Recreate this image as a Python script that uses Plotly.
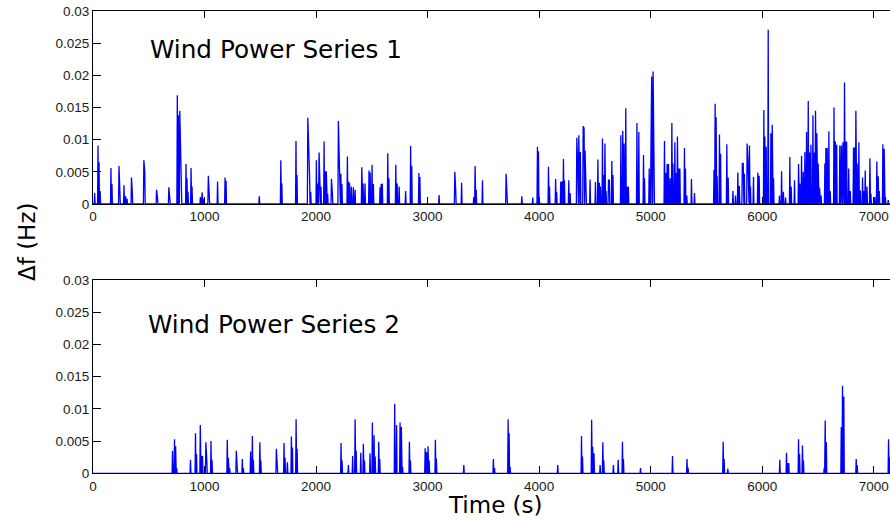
import plotly.graph_objects as go

# Frequency deviation peaks, wind power series 1 (time in s, deviation in Hz)
s1_t = [15, 45, 54, 64, 161, 170, 233, 241, 278, 292, 305, 345, 352, 456, 464, 570, 578, 680, 688,
        756, 765, 778, 784, 792, 834, 843, 852, 879, 888, 963, 978, 990, 1034, 1042, 1117, 1184, 1193,
        1491, 1684, 1693, 1820, 1829, 1926, 1934, 1942, 1952, 2003, 2012, 2027, 2035, 2044, 2072, 2081,
        2092, 2104, 2138, 2146, 2200, 2208, 2222, 2232, 2281, 2290, 2300, 2316, 2334, 2350, 2410, 2422,
        2439, 2475, 2485, 2502, 2514, 2574, 2584, 2594, 2643, 2653, 2715, 2727, 2745, 2803, 2848, 2858,
        2922, 2931, 3103, 3244, 3252, 3305, 3414, 3426, 3436, 3492, 3704, 3712, 3845, 3943, 3985, 3994,
        4003, 4084, 4093, 4148, 4157, 4194, 4206, 4218, 4227, 4266, 4278, 4338, 4346, 4356, 4370, 4395,
        4403, 4412, 4420, 4457, 4505, 4527, 4540, 4550, 4568, 4580, 4590, 4600, 4622, 4630, 4652, 4662,
        4733, 4750, 4762, 4777, 4787, 4800, 4877, 4894, 4936, 4945, 4987, 5002, 5009, 5022, 5030, 5124,
        5136, 5148, 5160, 5175, 5190, 5200, 5217, 5228, 5240, 5250, 5262, 5303, 5312, 5324, 5366, 5393,
        5568, 5578, 5587, 5596, 5617, 5627, 5683, 5695, 5738, 5761, 5782, 5795, 5822, 5830, 5840, 5865,
        5872, 5886, 5895, 5922, 5961, 5973, 6015, 6024, 6036, 6054, 6078, 6090, 6102, 6155, 6174, 6190,
        6210, 6248, 6260, 6290, 6326, 6338, 6353, 6368, 6383, 6398, 6413, 6425, 6437, 6455, 6466, 6478,
        6490, 6502, 6514, 6528, 6562, 6571, 6583, 6598, 6610, 6644, 6656, 6668, 6696, 6710, 6724, 6738,
        6748, 6757, 6776, 6790, 6819, 6830, 6840, 6852, 6867, 6880, 6900, 6912, 6924, 6940, 6966, 6975,
        7010, 7028, 7040, 7050, 7082, 7094, 7105, 7130]
s1_df = [0.0017, 0.0091, 0.0065, 0.002, 0.0056, 0.0031, 0.0059, 0.003, 0.0029, 0.0012, 0.0008, 0.0041,
         0.002, 0.0068, 0.0051, 0.0022, 0.001, 0.0026, 0.001, 0.0169, 0.0138, 0.0145, 0.0069, 0.0035,
         0.0062, 0.004, 0.0019, 0.0056, 0.0027, 0.0011, 0.0018, 0.0008, 0.0044, 0.0015, 0.0035, 0.0041,
         0.0036, 0.0012, 0.0068, 0.0032, 0.0098, 0.0045, 0.0134, 0.0097, 0.0042, 0.0019, 0.0068, 0.0032,
         0.008, 0.0044, 0.0027, 0.0097, 0.0051, 0.0051, 0.0016, 0.0039, 0.0018, 0.0129, 0.0071, 0.0047,
         0.0031, 0.0074, 0.0035, 0.0033, 0.0027, 0.0026, 0.0022, 0.0057, 0.0032, 0.0032, 0.0052, 0.0049,
         0.0061, 0.0031, 0.0026, 0.0031, 0.0032, 0.0079, 0.004, 0.0061, 0.0032, 0.0027, 0.002, 0.009,
         0.0059, 0.0048, 0.0042, 0.0014, 0.005, 0.0022, 0.0033, 0.0011, 0.0059, 0.0022, 0.0037, 0.0047,
         0.0027, 0.0012, 0.001, 0.0089, 0.0082, 0.0005, 0.0058, 0.0027, 0.0039, 0.0019, 0.0035, 0.0035,
         0.007, 0.0037, 0.0037, 0.0017, 0.0103, 0.006, 0.0107, 0.0081, 0.0121, 0.0118, 0.0083, 0.0027,
         0.0038, 0.0034, 0.0069, 0.0033, 0.0027, 0.0102, 0.0045, 0.0094, 0.002, 0.0037, 0.0037, 0.0067,
         0.0045, 0.0107, 0.0114, 0.0094, 0.0149, 0.0027, 0.0027, 0.0126, 0.0112, 0.0076, 0.004, 0.0055,
         0.016, 0.0198, 0.0206, 0.006, 0.0098, 0.0048, 0.0062, 0.0062, 0.004, 0.0126, 0.0063, 0.0096,
         0.0048, 0.0105, 0.0055, 0.0055, 0.0087, 0.0055, 0.0013, 0.0039, 0.0017, 0.0053, 0.0156, 0.0135,
         0.0043, 0.0108, 0.0078, 0.0093, 0.0041, 0.002, 0.0013, 0.0049, 0.0028, 0.0063, 0.0063, 0.0047,
         0.0094, 0.0068, 0.0091, 0.0027, 0.0042, 0.0049, 0.0044, 0.0146, 0.0105, 0.0089, 0.0271, 0.011,
         0.0123, 0.004, 0.0013, 0.0051, 0.0019, 0.001, 0.0073, 0.0027, 0.0037, 0.0062, 0.0032, 0.0075,
         0.005, 0.0081, 0.0112, 0.016, 0.008, 0.0092, 0.0138, 0.008, 0.0145, 0.011, 0.0063, 0.0025,
         0.0013, 0.0063, 0.0087, 0.0087, 0.0113, 0.002, 0.015, 0.0097, 0.0092, 0.0091, 0.0091, 0.0096,
         0.0189, 0.0097, 0.0097, 0.0055, 0.002, 0.0088, 0.0088, 0.0145, 0.0063, 0.0096, 0.0021, 0.0041,
         0.002, 0.0052, 0.0027, 0.0071, 0.0016, 0.0011, 0.0066, 0.0043, 0.002, 0.0093, 0.0086, 0.0011,
         0.0006]

# Frequency deviation peaks, wind power series 2
s2_t = [713, 731, 741, 750, 874, 919, 928, 962, 972, 982, 1012, 1020, 1058, 1067, 1204, 1213, 1225,
        1285, 1293, 1339, 1348, 1413, 1429, 1438, 1496, 1505, 1644, 1652, 1713, 1722, 1743, 1779, 1788,
        1821, 1830, 2224, 2233, 2290, 2328, 2350, 2360, 2401, 2424, 2434, 2484, 2505, 2520, 2530, 2562,
        2571, 2705, 2722, 2753, 2765, 2775, 2837, 2846, 2978, 2990, 3004, 3014, 3070, 3079, 3325, 3590,
        3600, 3722, 3731, 3740, 4167, 4380, 4389, 4471, 4480, 4492, 4547, 4571, 4580, 4666, 4709, 4747,
        4756, 4909, 5196, 5326, 5335, 5650, 5659, 5692, 6158, 6218, 6228, 6238, 6326, 6335, 6361, 6370,
        6556, 6565, 6575, 6709, 6720, 6732, 6843, 6852, 7133, 7142]
s2_df = [0.0035, 0.0053, 0.0042, 0.0008, 0.0021, 0.0062, 0.003, 0.0075, 0.0027, 0.0027, 0.0048, 0.0022,
         0.005, 0.0021, 0.0052, 0.0024, 0.0008, 0.0035, 0.0008, 0.0022, 0.0008, 0.0034, 0.0058, 0.0021,
         0.0048, 0.002, 0.0038, 0.0016, 0.0047, 0.0024, 0.0017, 0.0057, 0.004, 0.0084, 0.0038, 0.0047,
         0.002, 0.0013, 0.0027, 0.0084, 0.0035, 0.0032, 0.0046, 0.002, 0.0031, 0.0079, 0.0059, 0.0026,
         0.0049, 0.0022, 0.0108, 0.0075, 0.0079, 0.0072, 0.001, 0.0049, 0.002, 0.0039, 0.0033, 0.0042,
         0.002, 0.0052, 0.0023, 0.0013, 0.0022, 0.0008, 0.0084, 0.0062, 0.001, 0.0013, 0.0058, 0.0026,
         0.0083, 0.0041, 0.0031, 0.0013, 0.0048, 0.002, 0.0013, 0.0021, 0.0049, 0.0022, 0.0008, 0.0027,
         0.0022, 0.0009, 0.0049, 0.0022, 0.0007, 0.0021, 0.0032, 0.0016, 0.0016, 0.0053, 0.003, 0.0043,
         0.002, 0.0008, 0.0082, 0.0048, 0.0072, 0.0136, 0.0119, 0.0022, 0.0013, 0.0053, 0.0025]

series_names = ["Wind Power Series 1", "Wind Power Series 2"]
x_ticks = [0, 1000, 2000, 3000, 4000, 5000, 6000, 7000]
y_ticks = [0, 0.005, 0.01, 0.015, 0.02, 0.025, 0.03]
y_tick_text = ["0", "0.005", "0.01", "0.015", "0.02", "0.025", "0.03"]

T_END = 7200        # length of the record (s)
HALF_WIDTH = 4      # half base width of a single deviation event (s)

W, H = 890, 520


def event_trace(times, peaks):
    """Line vertices: zero baseline with a narrow event at each peak."""
    xs, ys = [0], [0.0]
    prev = None
    for t, p in zip(times, peaks):
        if prev is None or t - prev > 2 * HALF_WIDTH:
            if prev is not None:
                xs.append(prev + HALF_WIDTH)
                ys.append(0.0)
            xs.append(t - HALF_WIDTH)
            ys.append(0.0)
        xs.append(t)
        ys.append(p)
        prev = t
    xs += [prev + HALF_WIDTH, T_END]
    ys += [0.0, 0.0]
    return xs, ys


def py(pix):
    return 1 - pix / H


fig = go.Figure()
for k, (tt, vv) in enumerate([(s1_t, s1_df), (s2_t, s2_df)]):
    xs, ys = event_trace(tt, vv)
    suffix = "" if k == 0 else "2"
    fig.add_trace(go.Scatter(x=xs, y=ys, mode="lines",
                             line=dict(color="#0000ff", width=1.3),
                             xaxis="x" + suffix, yaxis="y" + suffix,
                             showlegend=False, hoverinfo="skip"))

tick_font = dict(family="Liberation Sans, Arial, sans-serif", size=13.5, color="#1a1a1a")
x_common = dict(range=[0, 7146], tickvals=x_ticks, ticks="inside", ticklen=7,
                tickcolor="black", showline=True, linecolor="black", linewidth=1,
                mirror="ticks", showgrid=False, zeroline=False, tickfont=tick_font,
                automargin=False, fixedrange=True, layer="below traces")
y_common = dict(range=[0, 0.03], tickvals=y_ticks, ticktext=y_tick_text, ticks="inside",
                ticklen=8, tickcolor="black", showline=True, linecolor="black", linewidth=1,
                showgrid=False, zeroline=False, tickfont=tick_font, automargin=False,
                fixedrange=True)
# right-hand tick marks (the right frame edge itself lies just past the page)
y_right = dict(range=[0, 0.03], tickvals=y_ticks, ticks="inside", ticklen=3,
               tickcolor="black", showline=False, showgrid=False, zeroline=False,
               showticklabels=False, side="right", fixedrange=True)

x_dom = [93 / W, 1.0]
fig.update_layout(
    width=W, height=H,
    margin=dict(l=0, r=0, t=0, b=0),
    paper_bgcolor="white", plot_bgcolor="white",
    xaxis=dict(domain=x_dom, anchor="y", **x_common),
    yaxis=dict(domain=[py(204), py(11)], anchor="x", **y_common),
    xaxis2=dict(domain=x_dom, anchor="y2", **x_common),
    yaxis2=dict(domain=[py(473.3), py(280)], anchor="x2", **y_common),
    yaxis3=dict(overlaying="y", anchor="x", **y_right),
    yaxis4=dict(overlaying="y2", anchor="x2", **y_right),
)

label_font = dict(family="DejaVu Sans, sans-serif", size=24.7, color="black")
fig.add_annotation(x=148 / W, y=py(49), xref="paper", yref="paper", text=series_names[0],
                   showarrow=False, xanchor="left", yanchor="middle", font=label_font)
fig.add_annotation(x=146 / W, y=py(324), xref="paper", yref="paper", text=series_names[1],
                   showarrow=False, xanchor="left", yanchor="middle", font=label_font)
fig.add_annotation(x=495 / W, y=py(505), xref="paper", yref="paper", text="Time (s)",
                   showarrow=False, xanchor="center", yanchor="middle",
                   font=dict(family="DejaVu Sans, sans-serif", size=23, color="black"))
fig.add_annotation(x=27 / W, y=py(242), xref="paper", yref="paper", text="Δf (Hz)",
                   showarrow=False, xanchor="center", yanchor="middle", textangle=-90,
                   font=dict(family="DejaVu Sans, sans-serif", size=23, color="black"))

fig.write_html("out.html")
